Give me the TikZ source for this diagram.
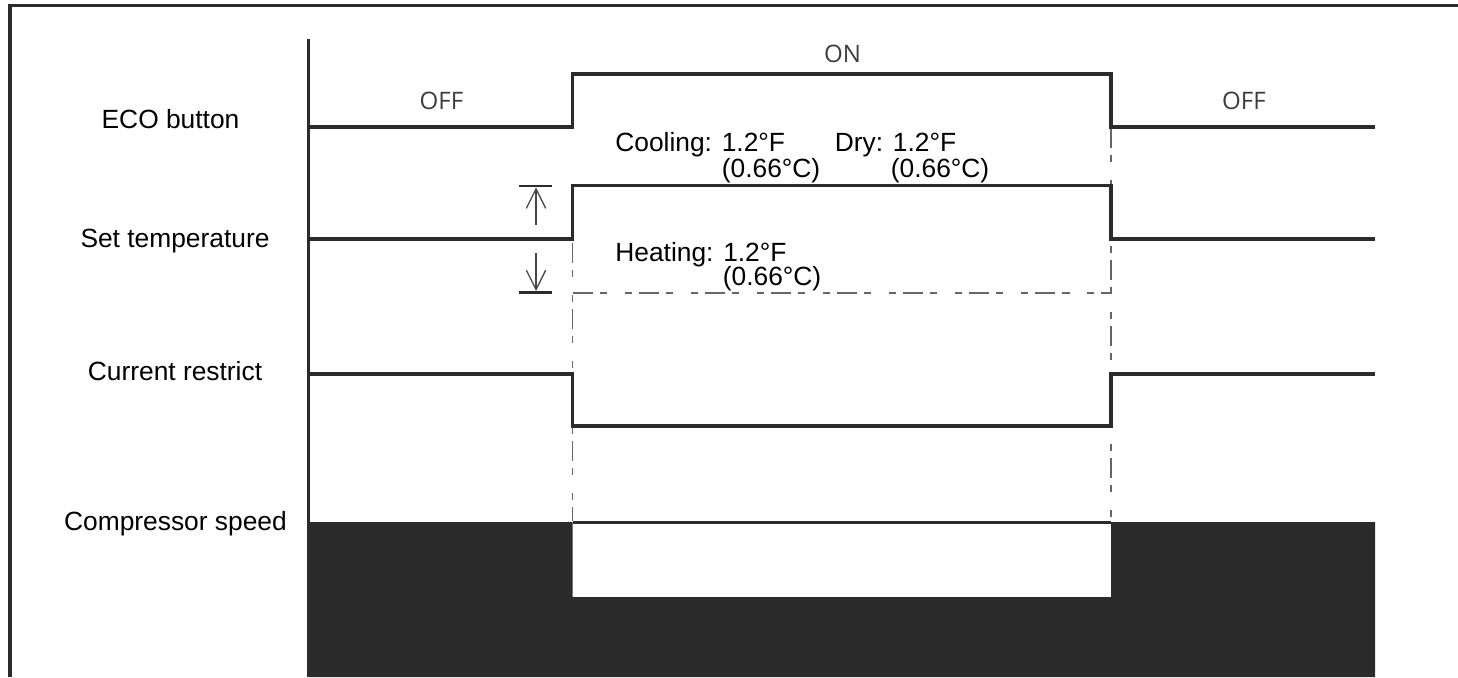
\documentclass[tikz,border=0pt]{standalone}
\usepackage{fontspec}
\setmainfont{Liberation Sans}
\newfontfamily\statefont{Open Sans}
\usepackage{tikz}
\usetikzlibrary{arrows.meta}
\definecolor{trace}{HTML}{2B2B2B}
\definecolor{guide}{HTML}{666666}
\definecolor{statetext}{HTML}{3C3C3C}
\tikzset{
  signal/.style={draw=trace, line width=1.85pt, line join=miter},
  frameline/.style={draw=trace, line width=1.85pt},
  guideline/.style={draw=guide, line width=0.85pt, dash pattern=on 11.4pt off 4pt on 4pt off 10.2pt on 4pt off 4pt},
  rowlabel/.style={anchor=base, inner sep=0pt, font=\fontsize{15}{18}\selectfont},
  statelabel/.style={anchor=base, inner sep=0pt, text=statetext, font=\statefont\fontsize{13.7}{16}\selectfont},
  notelabel/.style={anchor=base west, inner sep=0pt, font=\fontsize{15}{18}\selectfont},
  dimarrow/.style={draw=guide!70!black, line width=0.75pt, -{Straight Barb[length=11pt,width=11pt]}}
}

\begin{document}
\begin{tikzpicture}[x=0.02cm, y=-0.02cm]
\useasboundingbox (0,0) rectangle (1458,677);
% frame and time axis
\draw[frameline] (10,677) -- (10,5.7) -- (1458,5.7);
\draw[frameline] (308.5,39) -- (308.5,677);

% compressor speed
\fill[trace] (309,522) -- (572.5,522) -- (572.5,597) -- (1111,597) -- (1111,522) -- (1375,522) -- (1375,677) -- (309,677) -- cycle;
\draw[trace, line width=1.2pt] (572.5,522.5) -- (1111,522.5);

% guide lines
\draw[guideline] (572.5,243) -- (572.5,521);
\draw[guideline] (1111,128) -- (1111,521);
\draw[guideline] (573,293) -- (1111,293);

% signals
\draw[signal] (309,127) -- (572.5,127) -- (572.5,74) -- (1111,74) -- (1111,127) -- (1375,127);
\draw[signal] (309,239) -- (572.5,239) -- (572.5,185.5) -- (1111,185.5) -- (1111,239) -- (1375,239);
\draw[signal] (309,374) -- (572.5,374) -- (572.5,426) -- (1111,426) -- (1111,374) -- (1375,374);

% temperature shift
\draw[frameline, line width=1.5pt] (519,186) -- (552,186);
\draw[frameline, line width=1.5pt] (519,292.5) -- (552,292.5);
\coordinate (upTail) at (536,225);
\coordinate (upHead) at (536,187.5);
\coordinate (downTail) at (536,253);
\coordinate (downHead) at (536,291);
\draw[dimarrow] (upTail) -- (upHead);
\draw[dimarrow] (downTail) -- (downHead);

\node[rowlabel] (ecoLabel) at (170.5,128) {ECO button};
\node[rowlabel] (setLabel) at (175,247) {Set temperature};
\node[rowlabel] (currLabel) at (175,380) {Current restrict};
\node[rowlabel] (compLabel) at (175.5,530) {Compressor speed};

\node[statelabel] (offLeft) at (441.5,109) {OFF};
\node[statelabel] (onMid) at (842.5,62.5) {ON};
\node[statelabel] (offRight) at (1244,109) {OFF};

\node[notelabel] (coolF) at (615,151) {Cooling: 1.2°F};
\node[notelabel] (coolC) at (721.5,177) {(0.66°C)};
\node[notelabel] (dryF) at (834.5,151) {Dry: 1.2°F};
\node[notelabel] (dryC) at (890.5,177) {(0.66°C)};
\node[notelabel] (heatF) at (615,261) {Heating: 1.2°F};
\node[notelabel] (heatC) at (722.5,285) {(0.66°C)};
\end{tikzpicture}
\end{document}
